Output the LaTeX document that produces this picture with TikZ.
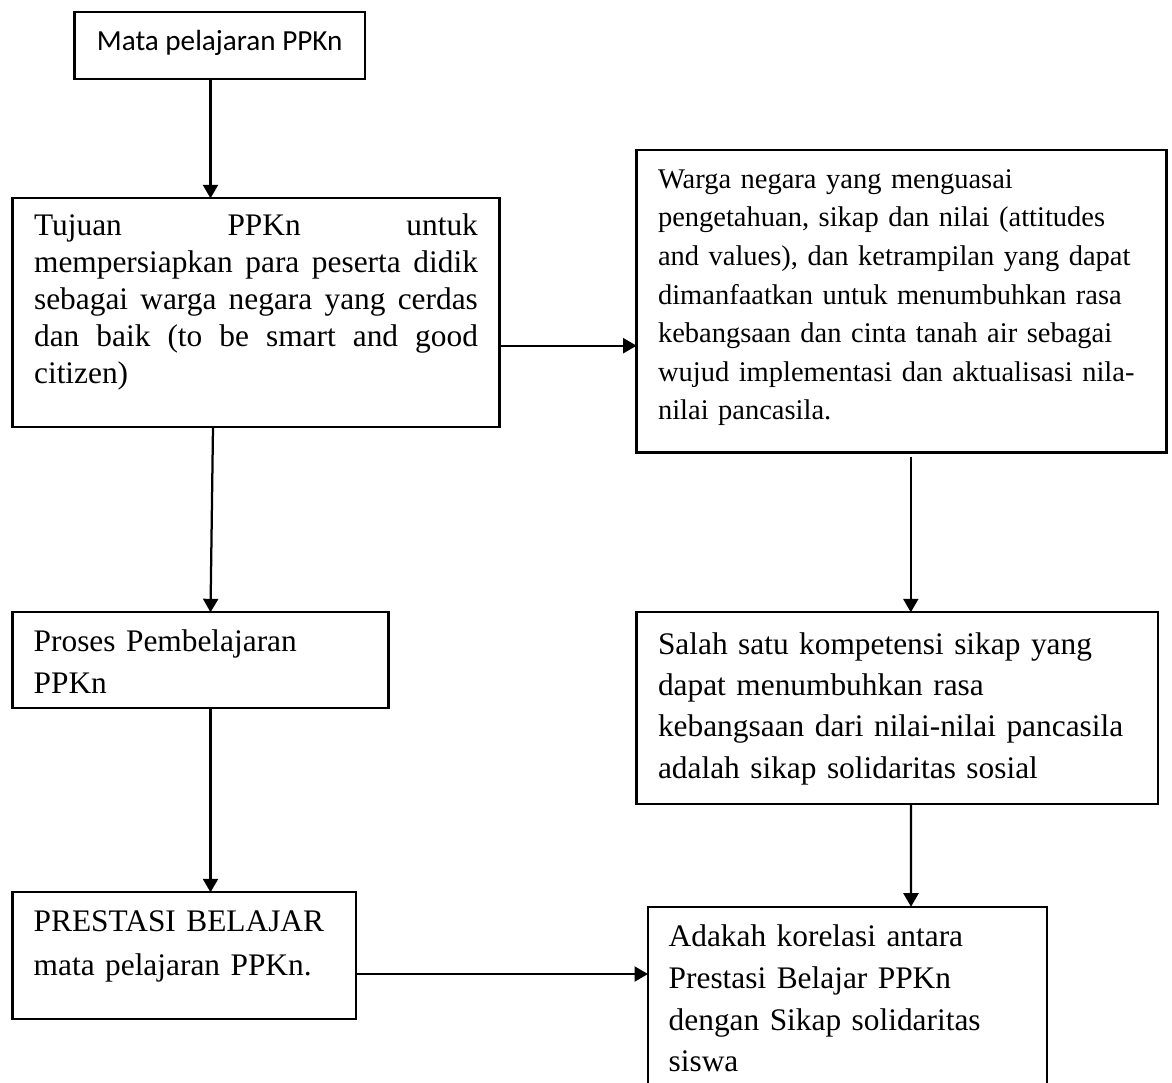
\documentclass[tikz,border=0pt]{standalone}
\usepackage{fontspec}
\setmainfont{Liberation Serif}
\newfontfamily\calibri{Carlito}
\usetikzlibrary{arrows.meta,calc}
\begin{document}
\begin{tikzpicture}[x=0.4pt,y=-0.4pt,
  box/.style={draw,line width=0.9pt,anchor=north west,outer sep=0pt,inner ysep=0pt},
  arr/.style={line width=0.9pt,-{Triangle[width=6pt,length=5.4pt]}}]
\clip (0,0) rectangle (1172,1082);
\fill[white] (0,0) rectangle (1172,1082);

\node[box,inner sep=0pt,minimum width=116.04pt,minimum height=26.92pt,
  text height=6pt,text depth=2.28pt,
  font=\calibri\fontsize{11.66pt}{14pt}\selectfont] (b1) at (74.6,11.7) {Mata pelajaran PPKn};

\node[box,inner xsep=8.6pt,text width=177.52pt,align=justify,
  font=\fontsize{12.55pt}{14.76pt}\selectfont] (b2) at (12.6,198.3)
  {\rule{0pt}{14.96pt}Tujuan PPKn untuk\linebreak mempersiapkan para peserta didik\linebreak sebagai warga negara yang cerdas\linebreak dan baik (to be smart and good\linebreak citizen)\rule[-17.36pt]{0pt}{17.36pt}};

\node[box,inner xsep=8.56pt,text width=194.8pt,align=left,
  font=\fontsize{11.4pt}{15.44pt}\selectfont] (b3) at (636.6,150)
  {\rule{0pt}{15.32pt}Warga negara yang menguasai\\ pengetahuan, sikap dan nilai (attitudes\\ and values), dan ketrampilan yang dapat\\ dimanfaatkan untuk menumbuhkan rasa\\ kebangsaan dan cinta tanah air sebagai\\ \mbox{wujud implementasi dan aktualisasi nila-}\\ nilai pancasila.\rule[-13.08pt]{0pt}{13.08pt}};

\node[box,inner xsep=8.44pt,text width=133.44pt,align=left,
  font=\fontsize{12.55pt}{16.64pt}\selectfont] (b4) at (12.6,612.3)
  {\rule{0pt}{15.76pt}Proses Pembelajaran\\ PPKn\rule[-5.76pt]{0pt}{5.76pt}};

\node[box,inner xsep=8.44pt,text width=120.36pt,align=left,
  font=\fontsize{12.55pt}{17.32pt}\selectfont] (b5) at (12.6,892.3)
  {\rule{0pt}{15.76pt}\mbox{PRESTASI BELAJAR}\\ mata pelajaran PPKn.\rule[-17.6pt]{0pt}{17.6pt}};

\node[box,inner xsep=8.56pt,text width=191.56pt,align=left,
  font=\fontsize{12.55pt}{16.57pt}\selectfont] (b6) at (636.6,612.3)
  {\rule{0pt}{16.68pt}Salah satu kompetensi sikap yang\\ dapat menumbuhkan rasa\\ kebangsaan dari nilai-nilai pancasila\\ adalah sikap solidaritas sosial\rule[-10.4pt]{0pt}{10.4pt}};

\node[box,inner xsep=8.28pt,text width=143.04pt,align=left,
  font=\fontsize{12.55pt}{16.67pt}\selectfont] (b7) at (648,906.7)
  {\rule{0pt}{16pt}Adakah korelasi antara\\ Prestasi Belajar PPKn\\ dengan Sikap solidaritas\\ siswa\rule[-20pt]{0pt}{20pt}};

\draw[arr] ($(b1.south west)+(135.9,0)$) -- ($(b2.north west)+(197.9,0)$);
\draw[arr] ($(b2.north east)+(0,147.4)$) -- ($(b3.north west)+(0,195.7)$);
\draw[arr] ($(b2.south west)+(200.4,0)$) -- ($(b4.north west)+(197.9,0)$);
\draw[arr] ($(b4.south west)+(197.9,0)$) -- ($(b5.north west)+(197.9,0)$);
\draw[arr] ($(b5.north east)+(0,81.7)$) -- ($(b7.north west)+(0,67.3)$);
\draw[arr] ($(b3.south west)+(274.2,4.3)$) -- ($(b6.north west)+(274.2,0)$);
\draw[arr] ($(b6.south west)+(274.4,0)$) -- ($(b7.north west)+(263,0)$);
\end{tikzpicture}
\end{document}
